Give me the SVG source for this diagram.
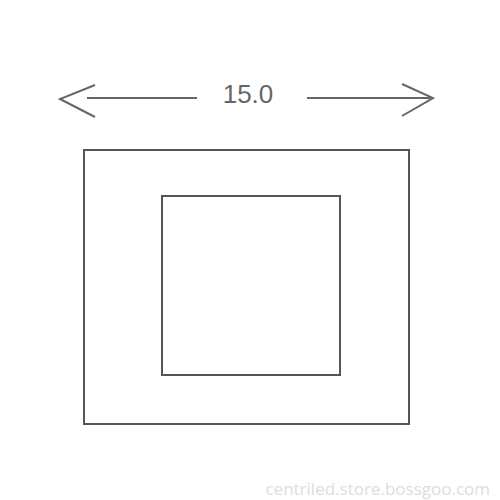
<svg xmlns="http://www.w3.org/2000/svg" width="500" height="500" viewBox="0 0 500 500">
<style>
.ln{fill:none;stroke:#666;stroke-width:2}
.rc{fill:none;stroke:#555;stroke-width:2}
</style>
<rect width="500" height="500" fill="#fff"/>
<g id="dimension">
<polyline class="ln" points="95,85 60,99 95,117"/>
<line class="ln" x1="87" y1="98" x2="197" y2="98"/>
<line class="ln" x1="307" y1="98" x2="430" y2="98"/>
<polyline class="ln" points="402,84 433,98 402,116"/>
<text x="248" y="103" font-family="Liberation Sans, Arial, sans-serif" font-size="26" fill="#666" text-anchor="middle">15.0</text>
</g>
<g id="outer"><rect class="rc" x="84" y="150" width="325" height="274"/></g>
<g id="inner"><rect class="rc" x="162" y="196" width="178" height="179"/></g>
<text x="490" y="495" font-family="Open Sans, sans-serif" font-size="17" fill="#ddd" text-anchor="end">centriled.store.bossgoo.com</text>
</svg>
